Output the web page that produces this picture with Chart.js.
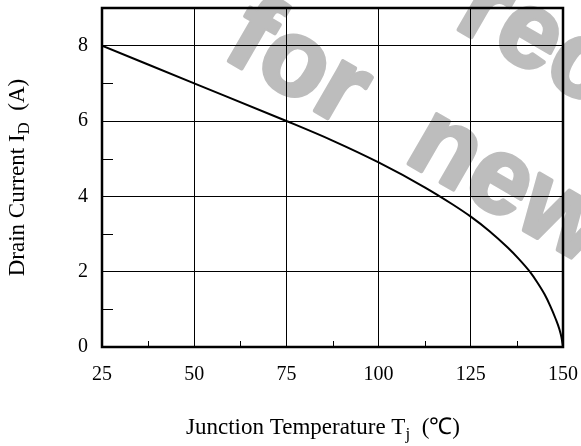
<!DOCTYPE html>
<html>
<head>
<meta charset="utf-8">
<script src="https://cdn.jsdelivr.net/npm/chart.js@4"></script>
<style>
  html, body { margin: 0; padding: 0; background: #fff; }
</style>
</head>
<body>
<canvas id="deratingChart" width="581" height="446"></canvas>
<script>
// ID derating vs junction temperature
const tempC  = [25, 50, 75, 87.5, 100, 112.5, 120, 125, 130, 135, 138, 141, 143, 145, 146.5, 148, 149, 149.6, 150];
const drainA = [8, 7, 6, 5.48, 4.9, 4.24, 3.79, 3.46, 3.08, 2.64, 2.34, 2.0, 1.72, 1.4, 1.1, 0.75, 0.48, 0.25, 0];

const xTicks = [25, 50, 75, 100, 125, 150];
const yTicks = [0, 2, 4, 6, 8];
const xMinor = [37.5, 62.5, 87.5, 112.5, 137.5];
const yMinor = [1, 3, 5, 7];

const serif = "'Liberation Serif', 'Times New Roman', serif";

// text with an inline subscript, centred on (0,0)
function drawSubText(ctx, parts) {
  const big = '23px ' + serif, small = '17px ' + serif;
  let w = 0;
  parts.forEach(p => { ctx.font = p.sub ? small : big; w += ctx.measureText(p.t).width; });
  let x = -w / 2;
  ctx.textAlign = 'left';
  ctx.textBaseline = 'alphabetic';
  parts.forEach(p => {
    ctx.font = p.sub ? small : big;
    ctx.fillText(p.t, x, p.sub ? 12 : 7);
    x += ctx.measureText(p.t).width;
  });
}

function stampWord(ctx, text, x, y) {
  ctx.save();
  ctx.translate(x, y);
  ctx.rotate(30 * Math.PI / 180);
  ctx.strokeText(text, 0, 0);
  ctx.fillText(text, 0, 0);
  ctx.restore();
}

const decor = {
  id: 'decor',
  beforeDraw(chart) {
    const ctx = chart.ctx;
    ctx.save();
    ctx.fillStyle = '#fff';
    ctx.fillRect(0, 0, chart.width, chart.height);
    // grey stamp across the sheet
    ctx.fillStyle = '#bdbdbd';
    ctx.strokeStyle = '#bdbdbd';
    ctx.lineWidth = 4;
    ctx.lineJoin = 'round';
    ctx.font = "bold 108px 'Liberation Sans', Arial, sans-serif";
    ctx.textAlign = 'left';
    ctx.textBaseline = 'alphabetic';
    stampWord(ctx, 'recommended', 452, 26);
    stampWord(ctx, 'for', 220, 56);
    stampWord(ctx, 'new design', 402, 160);
    ctx.restore();
  },
  afterDraw(chart) {
    const ctx = chart.ctx;
    const a = chart.chartArea;
    const xs = chart.scales.x, ys = chart.scales.y;
    ctx.save();
    ctx.strokeStyle = '#000';
    ctx.lineWidth = 1;
    ctx.beginPath();
    xMinor.forEach(v => {
      const px = Math.round(xs.getPixelForValue(v)) + 0.5;
      ctx.moveTo(px, a.bottom);
      ctx.lineTo(px, a.bottom - 6);
    });
    yMinor.forEach(v => {
      const py = Math.round(ys.getPixelForValue(v)) + 0.5;
      ctx.moveTo(a.left, py);
      ctx.lineTo(a.left + 11, py);
    });
    ctx.stroke();
    ctx.lineWidth = 2.5;
    ctx.strokeRect(a.left, a.top, a.right - a.left, a.bottom - a.top);

    ctx.fillStyle = '#000';
    ctx.save();
    ctx.translate(17, (a.top + a.bottom) / 2);
    ctx.rotate(-Math.PI / 2);
    drawSubText(ctx, [{t: 'Drain Current I'}, {t: 'D', sub: true}, {t: '  (A)'}]);
    ctx.restore();

    ctx.save();
    ctx.translate(323, 427);
    drawSubText(ctx, [{t: 'Junction Temperature T'}, {t: 'j', sub: true}, {t: '  (\u2103)'}]);
    ctx.restore();
    ctx.restore();
  }
};

// drop the label overhang so the plot box keeps its fixed edges
function noOverhang(s) {
  s.paddingTop = 0; s.paddingBottom = 0; s.paddingLeft = 0; s.paddingRight = 0;
}

new Chart(document.getElementById('deratingChart'), {
  type: 'scatter',
  data: {
    datasets: [{
      data: tempC.map((t, i) => ({x: t, y: drainA[i]})),
      showLine: true,
      borderColor: '#000',
      borderWidth: 2,
      pointRadius: 0,
      cubicInterpolationMode: 'monotone'
    }]
  },
  options: {
    responsive: false,
    devicePixelRatio: 1,
    animation: false,
    layout: { padding: { top: 8, right: 18, left: 0, bottom: 0 } },
    plugins: { legend: { display: false }, tooltip: { enabled: false } },
    scales: {
      x: {
        type: 'linear', min: 25, max: 150,
        afterBuildTicks: s => { s.ticks = xTicks.map(v => ({value: v})); },
        afterFit: s => { s.height = 99; noOverhang(s); },
        grid: { color: '#000', lineWidth: 1, drawTicks: false },
        border: { display: false },
        ticks: { color: '#000', font: { family: serif, size: 20 }, padding: 16, maxRotation: 0 }
      },
      y: {
        min: 0, max: 9,
        afterBuildTicks: s => { s.ticks = yTicks.map(v => ({value: v})); },
        afterFit: s => { s.width = 102; noOverhang(s); },
        grid: { color: '#000', lineWidth: 1, drawTicks: false },
        border: { display: false },
        ticks: { color: '#000', font: { family: serif, size: 20 }, padding: 14 }
      }
    }
  },
  plugins: [decor]
});
</script>
</body>
</html>
